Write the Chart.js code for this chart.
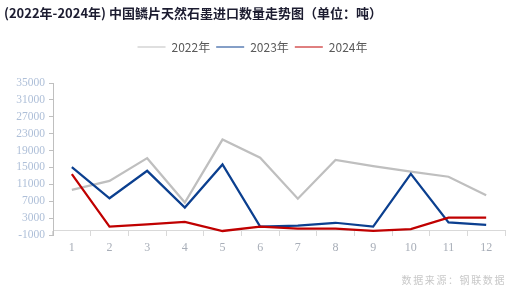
<!DOCTYPE html>
<html>
<head>
<meta charset="utf-8">
<script src="https://cdn.jsdelivr.net/npm/chart.js@4"></script>
<style>
  body { margin: 0; background: #fff; }
  #wrap { position: relative; width: 522px; height: 295px; }
  #title {
    position: absolute; left: 4px; top: 3px;
    font: bold 13px "Noto Sans CJK SC", sans-serif;
    color: #1c1c30; white-space: nowrap;
  }
  #source {
    position: absolute; right: 16px; top: 272px;
    font: 10px "Noto Sans CJK SC", sans-serif;
    color: #c8c8c8; letter-spacing: 1.6px; white-space: nowrap;
  }
</style>
</head>
<body>
<div id="wrap">
  <canvas id="chart" width="522" height="295"></canvas>
  <div id="title">(2022年-2024年) 中国鳞片天然石墨进口数量走势图（单位：吨）</div>
  <div id="source">数据来源：钢联数据</div>
</div>
<script>
const months = ['1', '2', '3', '4', '5', '6', '7', '8', '9', '10', '11', '12'];
const seriesNames = ['2022年', '2023年', '2024年'];
const data2022 = [9700, 11800, 17200, 6700, 21600, 17300, 7600, 16800, 15300, 14000, 12800, 8400];
const data2023 = [15100, 7700, 14200, 5500, 15700, 1000, 1200, 1900, 1000, 13500, 2000, 1400];
const data2024 = [13400, 1000, 1500, 2100, -50, 1000, 500, 500, 0, 400, 3100, 3100];
const yTicks = [-1000, 3000, 7000, 11000, 15000, 19000, 23000, 27000, 31000, 35000];

const ctx = document.getElementById('chart');

// extra room between legend and plot
const legendGap = {
    id: 'legendGap',
    beforeInit(chart) {
        const fit = chart.legend.fit;
        chart.legend.fit = function () {
            fit.bind(chart.legend)();
            this.height += 20;
        };
    }
};

const chart = new Chart(ctx, {
    type: 'line',
    data: {
        labels: months,
        datasets: [{
            label: seriesNames[0],
            data: data2022,
            borderColor: '#bfbfbf',
            backgroundColor: '#bfbfbf',
            order: 3,
        }, {
            label: seriesNames[1],
            data: data2023,
            borderColor: '#0b3f8f',
            backgroundColor: '#0b3f8f',
            order: 2,
        }, {
            label: seriesNames[2],
            data: data2024,
            borderColor: '#c00000',
            backgroundColor: '#c00000',
            order: 1,
        }]
    },
    options: {
        responsive: false,
        animation: false,
        layout: {
            padding: { top: 35, left: 0, right: 17, bottom: 60 }
        },
        elements: {
            line: { borderWidth: 2.25, tension: 0 },
            point: { radius: 0, hoverRadius: 0 }
        },
        plugins: {
            tooltip: { enabled: false },
            legend: {
                position: 'top',
                labels: {
                    usePointStyle: true,
                    pointStyle: 'line',
                    pointStyleWidth: 28,
                    padding: 6,
                    color: '#595959',
                    font: { family: '"Noto Sans CJK SC", sans-serif', size: 12 },
                    sort: (a, b) => a.datasetIndex - b.datasetIndex,
                }
            }
        },
        scales: {
            x: {
                position: { y: 0 },
                offset: true,
                grid: {
                    offset: true,
                    drawOnChartArea: false,
                    drawTicks: true,
                    tickLength: 5,
                    color: '#d9d9d9',
                },
                border: { color: '#d9d9d9', width: 1 },
                ticks: {
                    color: '#a8aeb8',
                    padding: 5,
                    font: { family: '"Liberation Serif", serif', size: 12 },
                }
            },
            y: {
                min: -1000,
                max: 35000,
                afterFit(scale) { scale.width = 53; },
                afterBuildTicks(scale) { scale.ticks = yTicks.map(v => ({ value: v })); },
                grid: {
                    drawOnChartArea: false,
                    drawTicks: true,
                    tickLength: 4,
                    color: '#bfbfbf',
                },
                border: { color: '#bfbfbf', width: 1 },
                ticks: {
                    color: '#aebfd8',
                    padding: 4,
                    font: { family: '"Liberation Serif", serif', size: 11.5 },
                    callback: (value) => String(value),
                }
            }
        }
    },
    plugins: [legendGap]
});
</script>
</body>
</html>
